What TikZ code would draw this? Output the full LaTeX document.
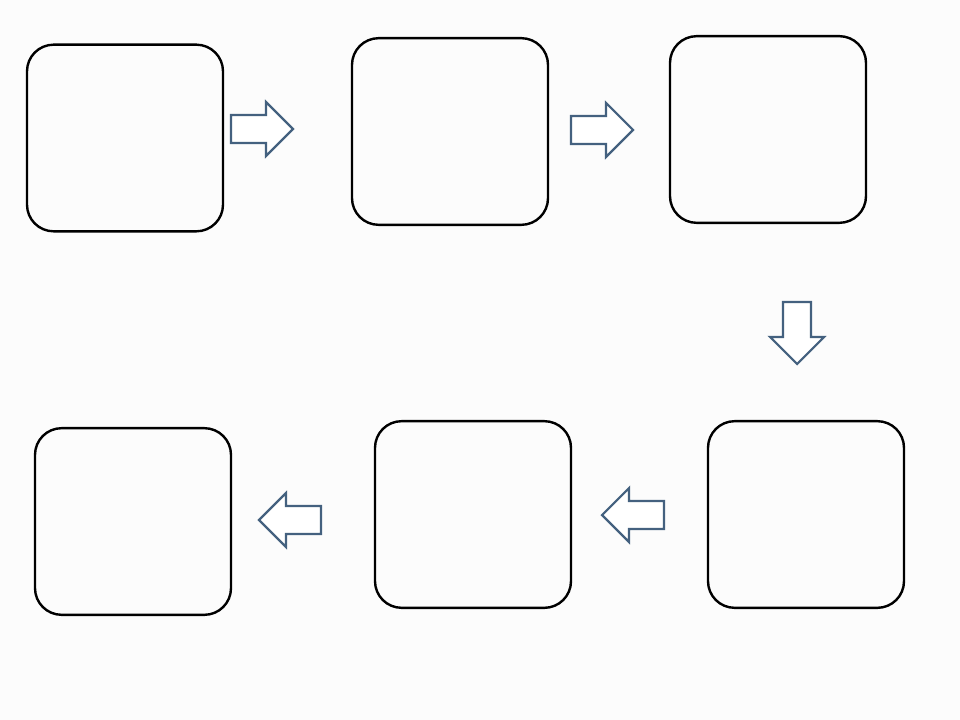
\documentclass[tikz,border=0pt]{standalone}
\begin{document}
\begin{tikzpicture}[x=0.75pt,y=-0.75pt,
  box/.style={draw=black,line width=1.8pt,rounded corners=20pt,minimum width=147pt,minimum height=140pt,inner sep=0pt},
  blockarrow/.pic={\draw[arrowcol,line width=1.6pt,line join=miter,fill=white]
     (0,-14) -- (35,-14) -- (35,-27) -- (62,0) -- (35,27) -- (35,14) -- (0,14) -- cycle;}
]
\definecolor{bg}{HTML}{FCFCFC}
\colorlet{arrowcol}{black}
\definecolor{arrowcol}{HTML}{44617F}
\fill[bg] (0,0) rectangle (960,720);
\useasboundingbox (0,0) rectangle (960,720);
\node[box] (b1) at (125,138) {};
\node[box] (b2) at (450,131.5) {};
\node[box] (b3) at (768,129.5) {};
\node[box] (b4) at (806,514.5) {};
\node[box] (b5) at (473,514.5) {};
\node[box] (b6) at (133,521.5) {};
\pic at (231,129) {blockarrow};
\pic at (571,130) {blockarrow};
\pic[rotate=-90] at (797,302) {blockarrow};
\pic[rotate=180] at (664,515) {blockarrow};
\pic[rotate=180] at (321,520) {blockarrow};
\end{tikzpicture}
\end{document}
